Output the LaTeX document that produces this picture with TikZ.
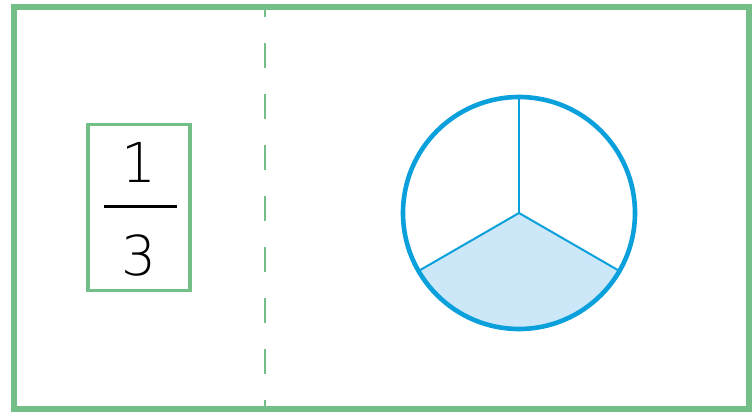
\documentclass[tikz,border=0pt]{standalone}
\usepackage{fontspec}
\usepackage{xcolor}
\usepackage{tikz}
\usetikzlibrary{positioning}
\newfontfamily\digitfont{DejaVu Sans ExtraLight}
\definecolor{leaf}{HTML}{74BF88}
\definecolor{sky}{HTML}{0AA0DC}
\definecolor{skylight}{HTML}{CCE8F8}

\begin{document}
\begin{tikzpicture}[x=1pt,y=1pt]
\useasboundingbox (0,0) rectangle (753,412);
\node[rectangle,draw=leaf,line width=5.5pt,minimum width=735pt,minimum height=402pt,inner sep=0pt,outer sep=0pt] (frame) at (381.5,204) {};
\coordinate (divtop) at (265,405);
\coordinate (divbot) at (265,3);
\draw[leaf,line width=2.3pt,dash pattern=on 25pt off 26pt,dash phase=15pt] (divtop) -- (divbot);
\node[rectangle,draw=leaf,line width=3.6pt,minimum width=102pt,minimum height=166pt,inner sep=0pt] (fracbox) at (139,204.5) {};
\node[font=\digitfont\fontsize{55}{60}\selectfont,inner sep=0pt] (num) at (139,250) {1};
\node[font=\digitfont\fontsize{55}{60}\selectfont,inner sep=0pt] (den) at (139,157) {3};
\coordinate (barl) at (104,205);
\coordinate (barr) at (177,205);
\draw[black,line width=3pt] (barl) -- (barr);
\coordinate (pc) at (519,199);
\fill[skylight] (pc) -- ++(210:116) arc[start angle=210,end angle=330,radius=116] -- cycle;
\node[circle,draw=sky,line width=4.6pt,minimum size=232pt,inner sep=0pt,outer sep=0pt] (pie) at (pc) {};
\draw[sky,line width=2pt] (pie.center) -- (pie.90);
\draw[sky,line width=2pt] (pie.center) -- (pie.210);
\draw[sky,line width=2pt] (pie.center) -- (pie.330);
\end{tikzpicture}
\end{document}
